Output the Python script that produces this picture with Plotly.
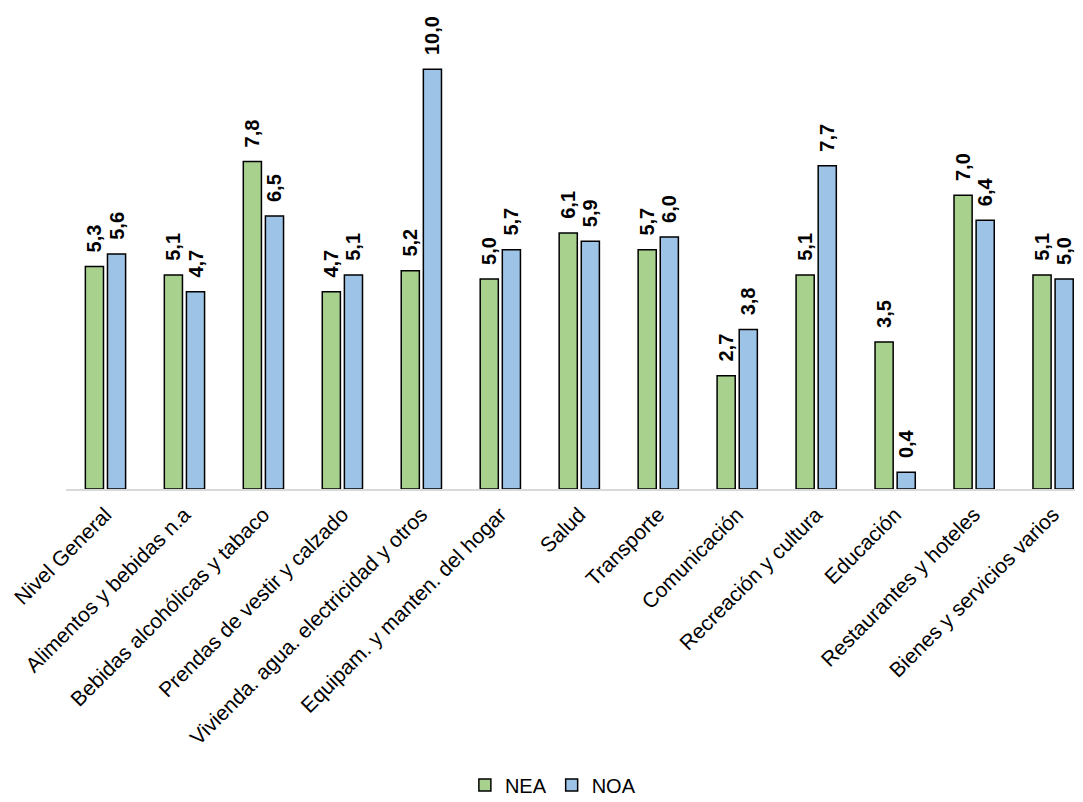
import plotly.graph_objects as go

categorias = ["Nivel General", "Alimentos y bebidas n.a", "Bebidas alcohólicas y tabaco",
              "Prendas de vestir y calzado", "Vivienda. agua. electricidad y otros",
              "Equipam. y manten. del hogar", "Salud", "Transporte", "Comunicación",
              "Recreación y cultura", "Educación", "Restaurantes y hoteles",
              "Bienes y servicios varios"]
nea = [5.3, 5.1, 7.8, 4.7, 5.2, 5.0, 6.1, 5.7, 2.7, 5.1, 3.5, 7.0, 5.1]
noa = [5.6, 4.7, 6.5, 5.1, 10.0, 5.7, 5.9, 6.0, 3.8, 7.7, 0.4, 6.4, 5.0]

def fmt(v):
    return f"{v:.1f}".replace(".", ",")

fig = go.Figure()
for name, vals, color in [("NEA", nea, "#A9D18E"), ("NOA", noa, "#9DC3E6")]:
    fig.add_trace(go.Bar(
        name=name, x=categorias, y=vals,
        marker=dict(color=color, line=dict(color="#000000", width=1.5)),
        text=["\u00a0\u00a0" + fmt(v) for v in vals],
        textposition="outside", textangle=-90, cliponaxis=False, constraintext="none",
        textfont=dict(family="Liberation Sans, Arial", size=20, color="#000000", weight="bold"),
    ))

fig.update_layout(
    width=1083, height=802,
    barmode="group", bargap=0.44, bargroupgap=0.18,
    paper_bgcolor="white", plot_bgcolor="white",
    margin=dict(l=58, r=0, t=36, b=321),
    font=dict(family="Liberation Sans, Arial", color="#000000"),
    xaxis=dict(range=[-0.5, 12.48], tickangle=-45, showline=True, linecolor="#D9D9D9",
               linewidth=2, tickfont=dict(size=21, color="#000000"), ticks="",
               ticklabelstandoff=3),
    yaxis=dict(range=[0, 10.6], visible=False, showgrid=False, zeroline=False),
    legend=dict(orientation="h", x=0.475, xanchor="center", y=-0.665, yanchor="middle",
                font=dict(size=20), itemwidth=30, traceorder="normal"),
    showlegend=True,
)
fig.write_html("out.html")
